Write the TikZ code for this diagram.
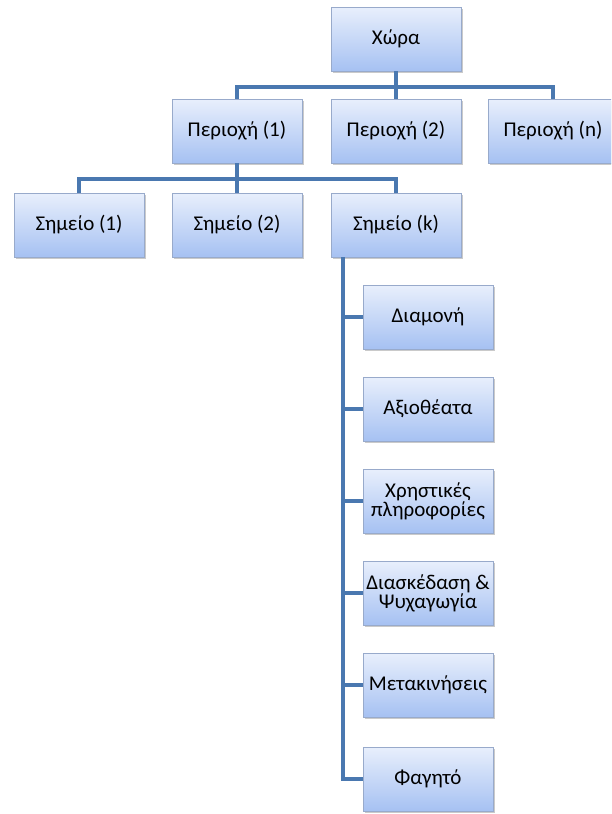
\documentclass[tikz,border=0pt]{standalone}
\usepackage{fontspec}
\setmainfont{Carlito}
\usetikzlibrary{shadows}
\definecolor{boxtop}{HTML}{E8EFFC}
\definecolor{boxbot}{HTML}{A6C1F2}
\definecolor{boxline}{HTML}{98AACB}
\definecolor{linkblue}{HTML}{4A78B0}
\tikzset{
  unitbox/.style={draw=boxline, line width=0.6pt, top color=boxtop, bottom color=boxbot,
    minimum width=130pt, minimum height=64pt, inner sep=2pt, align=center,
    font=\fontsize{21}{23}\selectfont,
    drop shadow={shadow xshift=2pt, shadow yshift=-2pt, opacity=0.35, fill=black!60}},
  link/.style={draw=linkblue, line width=3.3pt}
}
\begin{document}
\begin{tikzpicture}[x=1pt,y=-1pt]
\useasboundingbox (0,0) rectangle (611,814);
\begin{scope}
\clip (0,0) rectangle (611,814);
\coordinate (busA) at (396,87);
\coordinate (busB) at (237,179);
% top level
\node[unitbox] (country) at (396,39) {Χώρα};
% regions
\node[unitbox] (r1) at (237,131) {Περιοχή (1)};
\node[unitbox] (r2) at (396,131) {Περιοχή (2)};
\node[unitbox] (rn) at (553,131) {Περιοχή (n)};
% points
\node[unitbox] (p1) at (79,225) {Σημείο (1)};
\node[unitbox] (p2) at (237,225) {Σημείο (2)};
\node[unitbox] (pk) at (396,225) {Σημείο (k)};
% categories
\node[unitbox] (c1) at (428,317) {Διαμονή};
\node[unitbox] (c2) at (428,409) {Αξιοθέατα};
\node[unitbox] (c3) at (428,501) {Χρηστικές\\[-4pt]πληροφορίες};
\node[unitbox] (c4) at (428,593) {Διασκέδαση \&\\[-4pt]Ψυχαγωγία};
\node[unitbox] (c5) at (428,685) {Μετακινήσεις};
\node[unitbox] (c6) at (428,779) {Φαγητό};
% connectors
\draw[link] (country.south) -- (busA);
\draw[link] (r1.north) |- (busA) -| (rn.north);
\draw[link] (busA) -- (r2.north);
\draw[link] (r1.south) -- (busB);
\draw[link] (p1.north) |- (busB) -| (pk.north);
\draw[link] (busB) -- (p2.north);
\coordinate (stem) at ([xshift=-53pt]pk.south);
\draw[link] (stem) |- (c6.west);
\foreach \c in {c1,c2,c3,c4,c5}
  \draw[link] (stem |- \c.west) -- (\c.west);
\end{scope}
\end{tikzpicture}
\end{document}
